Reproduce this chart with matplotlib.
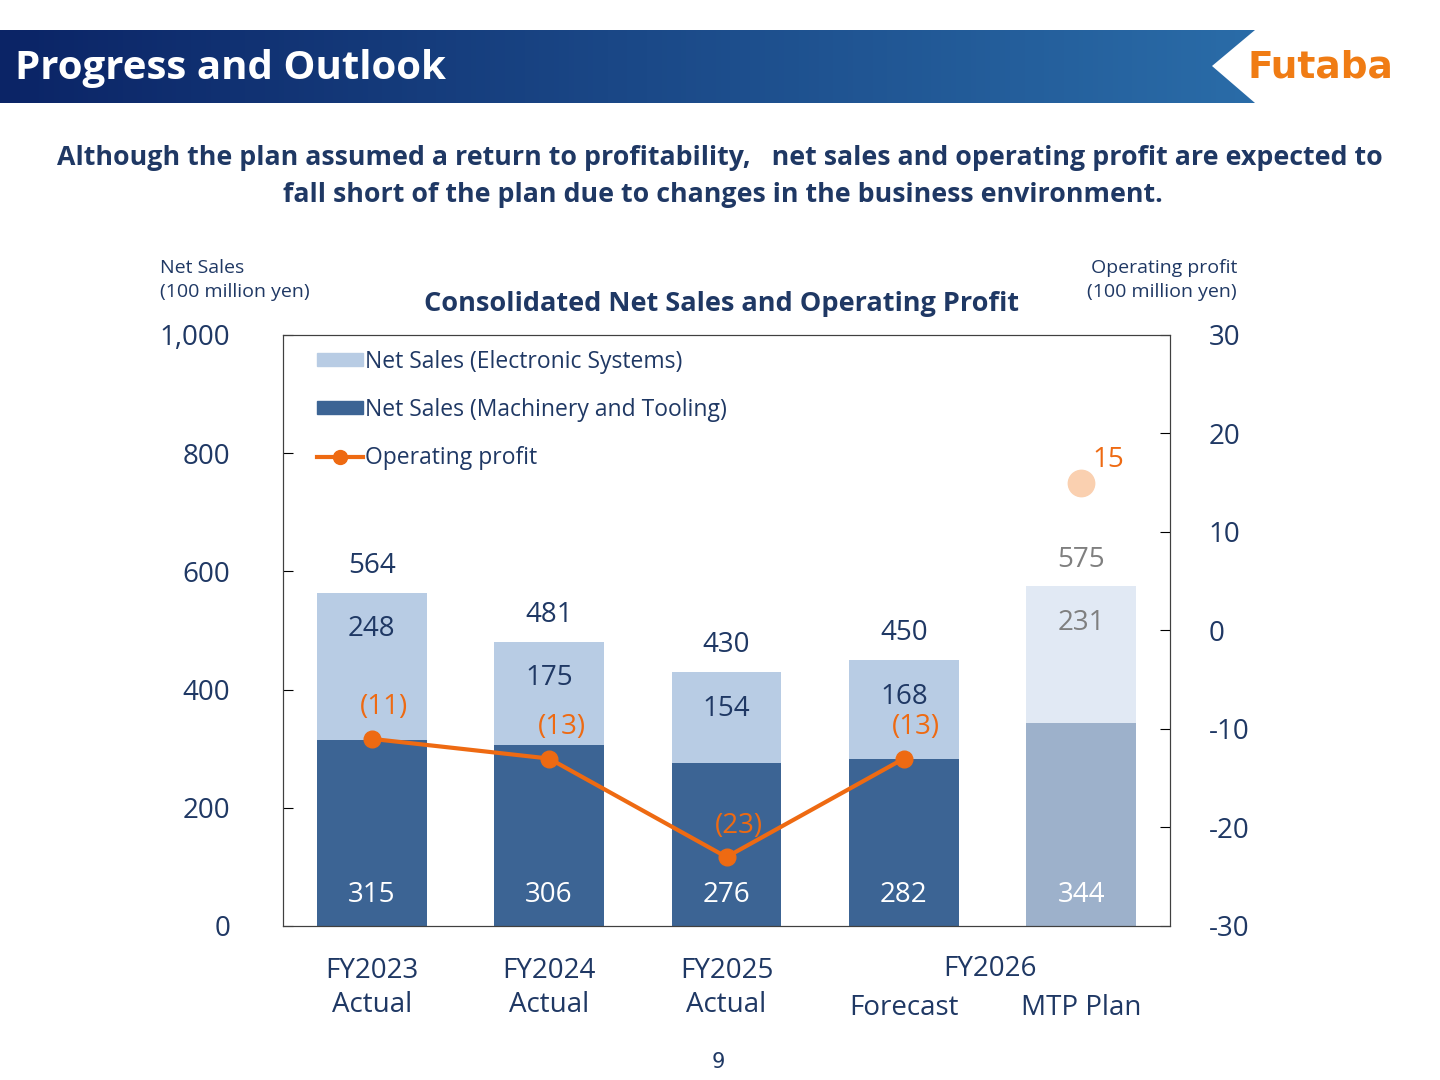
import matplotlib
matplotlib.use("Agg")
import matplotlib.pyplot as plt
import numpy as np
from matplotlib.patches import Polygon, Patch
from matplotlib.lines import Line2D
from matplotlib.colors import LinearSegmentedColormap

categories = ["FY2023\nActual", "FY2024\nActual", "FY2025\nActual", "Forecast", "MTP Plan"]
machinery = [315, 306, 276, 282, 344]
electronic = [248, 175, 154, 168, 231]
totals = [564, 481, 430, 450, 575]
op_profit = [-11, -13, -23, -13]
op_labels = ["(11)", "(13)", "(23)", "(13)"]
plan_profit = 15

NAVY = "#1F3864"
F = "Open Sans"
fig = plt.figure(figsize=(14.4, 10.8), dpi=100)

hx = fig.add_axes([0, 0, 1, 1], zorder=-5)
hx.set_xlim(0, 1440); hx.set_ylim(1080, 0); hx.axis("off")
grad = np.linspace(0, 1, 256).reshape(1, -1)
cm = LinearSegmentedColormap.from_list("h", ["#0B2466", "#2A6CA8"])
im = hx.imshow(grad, cmap=cm, extent=[0, 1255, 103, 30], aspect="auto")
clip = Polygon([[0, 30], [1255, 30], [1212, 66], [1255, 103], [0, 103]], closed=True, transform=hx.transData)
im.set_clip_path(clip)
hx.text(15, 68, "Progress and Outlook", color="white", fontsize=29, fontweight="bold", va="center", family=F)
hx.text(1320, 68, "Futaba", color="#F07C14", fontsize=27, fontweight="black", va="center", ha="center", family="DejaVu Sans")
hx.text(720, 158, "Although the plan assumed a return to profitability,   net sales and operating profit are expected to",
        color=NAVY, fontsize=19.3, fontweight="bold", ha="center", va="center", family=F)
hx.text(723, 195, "fall short of the plan due to changes in the business environment.",
        color=NAVY, fontsize=19.3, fontweight="bold", ha="center", va="center", family=F)
hx.text(722, 304, "Consolidated Net Sales and Operating Profit", color=NAVY, fontsize=19.5, fontweight="bold",
        ha="center", va="center", family=F)
hx.text(160, 280, "Net Sales\n(100 million yen)", color=NAVY, fontsize=14, va="center", family=F, linespacing=1.45)
hx.text(1237, 280, "Operating profit\n(100 million yen)", color=NAVY, fontsize=14, va="center", ha="right", family=F, linespacing=1.45)
hx.text(718, 1062, "9", color=NAVY, fontsize=15, ha="center", va="center")
hx.text(990, 969, "FY2026", color=NAVY, fontsize=20, ha="center", va="center", family=F)

ax = fig.add_axes([283/1440, 1-926/1080, 887/1440, 591/1080])
x = np.arange(5)
mcol = ["#3C6494"] * 4 + ["#9DB1CB"]
ecol = ["#B8CCE4"] * 4 + ["#E1E9F4"]
w = 0.62
ax.bar(x, machinery, w, color=mcol)
ax.bar(x, electronic, w, bottom=machinery, color=ecol)
ax.set_xlim(-0.5, 4.5); ax.set_ylim(0, 1000)
ax.set_yticks(range(0, 1001, 200))
ax.set_yticklabels(["0", "200", "400", "600", "800", "1,000"], family=F)
ax.tick_params(axis="y", direction="in", labelsize=20, labelcolor=NAVY, length=7, pad=38)
ax.set_xticks(x[:3])
ax.set_xticklabels(categories[:3], fontsize=20, color=NAVY, family=F, linespacing=1.3)
ax.tick_params(axis="x", length=0, pad=22)
for i in (3, 4):
    ax.text(x[i], -0.138, categories[i], transform=ax.get_xaxis_transform(), ha="center", va="center",
            fontsize=20, color=NAVY, family=F)
for i in range(5):
    last = i == 4
    ax.text(x[i], 52, str(machinery[i]), ha="center", va="center", fontsize=20, color="white", family=F)
    ax.text(x[i], totals[i] - 62, str(electronic[i]), ha="center", va="center", fontsize=20,
            color="#7F7F7F" if last else NAVY, family=F)
    ax.text(x[i], totals[i] + 45, str(totals[i]), ha="center", va="center", fontsize=20,
            color="#7F7F7F" if last else NAVY, family=F)

ax2 = ax.twinx()
ax2.set_ylim(-30, 30)
ax2.set_yticks(range(-30, 31, 10))
ax2.set_yticklabels([str(v) for v in range(-30, 31, 10)], family=F)
ax2.tick_params(axis="y", direction="in", labelsize=20, labelcolor=NAVY, length=7, pad=28)
ORANGE = "#EE6A12"
ax2.plot(x[:4], op_profit, color=ORANGE, lw=3, marker="o", ms=12)
for i, (v, l) in enumerate(zip(op_profit, op_labels)):
    ax2.text(x[i] + 0.07, v + 3.2, l, ha="center", va="center", fontsize=20, color=ORANGE, family=F)
ax2.plot([x[4]], [plan_profit], "o", color="#FAD0B0", ms=19)
ax2.text(x[4] + 0.15, plan_profit + 2.3, "15", ha="center", va="center", fontsize=20, color=ORANGE, family=F)

handles = [Patch(color="#B8CCE4"), Patch(color="#3C6494"),
           Line2D([], [], color=ORANGE, lw=3, marker="o", ms=10)]
ax.legend(handles, ["Net Sales (Electronic Systems)", "Net Sales (Machinery and Tooling)", "Operating profit"],
          loc="upper left", bbox_to_anchor=(0.015, 1.01), frameon=False,
          handlelength=2.0, handleheight=0.5, handletextpad=0.1, labelspacing=1.05, labelcolor=NAVY,
          prop={"family": F, "size": 16.5})
for a in (ax, ax2):
    for s in a.spines.values():
        s.set_color("#404040")
fig.savefig("out.png", dpi=100)
